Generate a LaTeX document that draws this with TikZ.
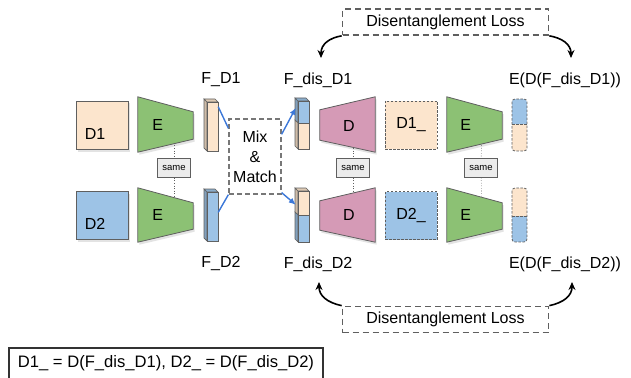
\documentclass[tikz,border=0pt]{standalone}
\usepackage{fontspec}
\setmainfont{Liberation Sans}
\usetikzlibrary{calc,fit,shadows,arrows.meta,backgrounds}
\definecolor{peach}{HTML}{FCE5CD}
\definecolor{sky}{HTML}{9DC3E6}
\definecolor{leaf}{HTML}{8CC174}
\definecolor{rose}{HTML}{D59AB6}
\definecolor{edge}{HTML}{5F5F5F}
\definecolor{arrowblue}{HTML}{3C78D8}
\tikzset{
  shapeline/.style={draw=edge, line width=0.8pt},
  softshadow/.style={drop shadow={opacity=0.22, shadow xshift=1.5pt, shadow yshift=-2.5pt}},
  txt/.style={font=\fontsize{16}{19}\selectfont, inner sep=0pt},
  samebox/.style={draw=edge, fill=gray!15, font=\fontsize{9.5}{11}\selectfont, minimum width=33pt, minimum height=19pt, inner sep=0pt},
  lossbox/.style={draw=edge, dash pattern=on 6pt off 4pt, line width=1.7pt, minimum width=206pt, minimum height=26pt, font=\fontsize{16}{19}\selectfont, inner sep=0pt},
  imgbox/.style={shapeline, minimum width=52pt, minimum height=48pt, inner sep=0pt},
  recbox/.style={draw=edge, line width=0.8pt, dash pattern=on 2.5pt off 1.5pt, minimum width=52pt, minimum height=48pt, inner sep=0pt, font=\fontsize{16}{19}\selectfont},
  barline/.style={draw=edge, line width=0.6pt},
  dashbarline/.style={draw=edge, line width=0.8pt, dash pattern=on 2.5pt off 1.5pt},
  blueline/.style={draw=arrowblue, line width=1.4pt},
  bluearrow/.style={draw=arrowblue, line width=1.4pt, -{Latex[length=7pt,width=6pt]}},
  lossarrow/.style={draw=black, line width=1.6pt, -{Stealth[length=8pt,width=7pt]}},
  samelink/.style={draw=edge, dotted, line width=0.6pt},
  hidden/.style={inner sep=0pt}
}
\newcommand\featbar[6]{%
  \filldraw[barline, fill=#5!82!black] (#1,#2) -- (#1-3,#2-3) -- (#1-3,#3-3) -- (#1,#3) -- cycle;
  \filldraw[barline, fill=#6!82!black] (#1,#3) -- (#1-3,#3-3) -- (#1-3,#4-3) -- (#1,#4) -- cycle;
  \filldraw[barline, fill=#5!88!black] (#1,#2) -- (#1-3,#2-3) -- (#1+8,#2-3) -- (#1+11,#2) -- cycle;
  \filldraw[barline, fill=#5] (#1,#2) rectangle (#1+11,#3);
  \filldraw[barline, fill=#6] (#1,#3) rectangle (#1+11,#4);
}
\newcommand\dashbar[6]{%
  \begin{scope}
    \clip[rounded corners=3pt] (#1,#2) rectangle (#1+15,#4);
    \fill[#5] (#1,#2) rectangle (#1+15,#3);
    \fill[#6] (#1,#3) rectangle (#1+15,#4);
  \end{scope}
  \draw[dashbarline] (#1,#3) -- (#1+15,#3);
  \draw[dashbarline, rounded corners=3pt] (#1,#2) rectangle (#1+15,#4);
}
\begin{document}
\begin{tikzpicture}[x=1pt, y=-1pt]
\useasboundingbox (0,0) rectangle (631,377);

% input images
\node[imgbox, fill=peach, softshadow] (d1sq) at (102,125) {};
\node[txt] at ($(d1sq.center)+(-7,9)$) {D1};
\node[imgbox, fill=sky, softshadow] (d2sq) at (102,215) {};
\node[txt] at ($(d2sq.center)+(-7,9)$) {D2};

% encoders (left)
\node[fit={(138,97) (193,152)}, hidden] (e1) {};
\node[fit={(138,188) (193,242)}, hidden] (e2) {};
% decoders
\node[fit={(320,97) (375,152)}, hidden] (dd1) {};
\node[fit={(320,188) (375,242)}, hidden] (dd2) {};
% encoders (right)
\node[fit={(447,97) (502,152)}, hidden] (e3) {};
\node[fit={(447,188) (502,242)}, hidden] (e4) {};

% same boxes
\node[samebox] (s1) at (174,168) {same};
\node[samebox] (s2) at (353,168) {same};
\node[samebox] (s3) at (481,168) {same};

\begin{scope}[on background layer]
  \draw[samelink] ($(e1.center)+(8.5,0)$) -- (s1) -- ($(e2.center)+(8.5,0)$);
  \draw[samelink] ($(dd1.center)+(5.5,0)$) -- (s2) -- ($(dd2.center)+(5.5,0)$);
  \draw[samelink] ($(e3.center)+(7.5,0)$) -- (s3) -- ($(e4.center)+(7.5,0)$);
\end{scope}

\foreach \n in {e1,e2,e3,e4}{
  \path[fill=leaf, shapeline, softshadow] (\n.north west) -- ($(\n.north east)+(0,15)$) -- ($(\n.south east)+(0,-13)$) -- (\n.south west) -- cycle;
}
\foreach \n in {dd1,dd2}{
  \path[fill=rose, shapeline, softshadow] (\n.north east) -- (\n.south east) -- ($(\n.south west)+(0,-12)$) -- ($(\n.north west)+(0,13)$) -- cycle;
}
\node[txt] at ($(e1.west)+(20,0)$) {E};
\node[txt] at ($(e2.west)+(20,0)$) {E};
\node[txt] at ($(e3.west)+(19,0)$) {E};
\node[txt] at ($(e4.west)+(19,0)$) {E};
\node[txt] at ($(dd1.center)+(1.5,1)$) {D};
\node[txt] at ($(dd2.center)+(1.5,0)$) {D};

% re-draw same boxes on top
\node[samebox] at (s1) {same};
\node[samebox] at (s2) {same};
\node[samebox] at (s3) {same};

% feature bars
\featbar{207}{102}{151}{151}{peach}{peach}
\featbar{207}{192}{241}{241}{sky}{sky}
\featbar{298}{101}{123}{149}{sky}{peach}
\featbar{298}{191}{215}{242}{peach}{sky}
\node[fit={(204,99) (218,151)}, hidden] (fd1) {};
\node[fit={(204,189) (218,241)}, hidden] (fd2) {};
\node[fit={(295,98) (309,149)}, hidden] (fdis1) {};
\node[fit={(295,188) (309,242)}, hidden] (fdis2) {};

\dashbar{512}{99}{124}{151}{sky}{peach}
\dashbar{512}{188}{216}{242}{peach}{sky}
\node[fit={(512,99) (527,151)}, hidden] (ed1) {};
\node[fit={(512,188) (527,242)}, hidden] (ed2) {};

% reconstructed images
\node[recbox, fill=peach] (r1) at (411,125) {D1\_};
\node[recbox, fill=sky] (r2) at (411,215.5) {D2\_};

% mix & match
\node[draw=edge!85, dash pattern=on 5pt off 3pt, line width=1.2pt, minimum width=52pt, minimum height=75pt, align=center, inner sep=0pt, font=\fontsize{16}{20}\selectfont] (mix) at (255,156.5) {Mix\\\&\\Match};

\draw[blueline] ($(fd1.north east)!0.15!(fd1.south east)$) -- ($(mix.north west)!0.13!(mix.south west)$);
\draw[blueline] ($(fd2.north east)!0.45!(fd2.south east)$) -- (mix.south west);
\draw[bluearrow] ($(mix.north east)!0.21!(mix.south east)$) -- ($(fdis1.north west)+(1,10)$);
\draw[bluearrow] ($(mix.south east)+(0,-2)$) -- ($(fdis2.north west)+(1,17)$);

% labels
\node[txt] (lfd1) at (221,80) {F\_D1};
\node[txt] (lfd2) at (221,264) {F\_D2};
\node[txt] (lfdis1) at (318,80) {F\_dis\_D1};
\node[txt] (lfdis2) at (318,264) {F\_dis\_D2};
\node[txt] (led1) at (565,80) {E(D(F\_dis\_D1))};
\node[txt] (led2) at (565,264) {E(D(F\_dis\_D2))};

% losses
\node[lossbox] (loss1) at (445.5,22) {Disentanglement Loss};
\node[lossbox] (loss2) at (445.5,319.5) {Disentanglement Loss};
\coordinate (t1) at (321,58);
\coordinate (t2) at (571,58);
\coordinate (t3) at (319,282);
\coordinate (t4) at (572,282);
\draw[lossarrow] (loss1.south west) .. controls +(-12,2) and +(0,-14) .. (t1);
\draw[lossarrow] (loss1.south east) .. controls +(12,2) and +(0,-14) .. (t2);
\draw[lossarrow] (loss2.north west) .. controls +(-14,-3) and +(0,14) .. (t3);
\draw[lossarrow] (loss2.north east) .. controls +(14,-3) and +(0,14) .. (t4);

% legend
\node[draw=black!80, line width=1.3pt, minimum width=314pt, minimum height=31pt, inner sep=0pt, font=\fontsize{16.6}{19}\selectfont] (legend) at (166,363.5) {D1\_ = D(F\_dis\_D1), D2\_ = D(F\_dis\_D2)};
\end{tikzpicture}
\end{document}
